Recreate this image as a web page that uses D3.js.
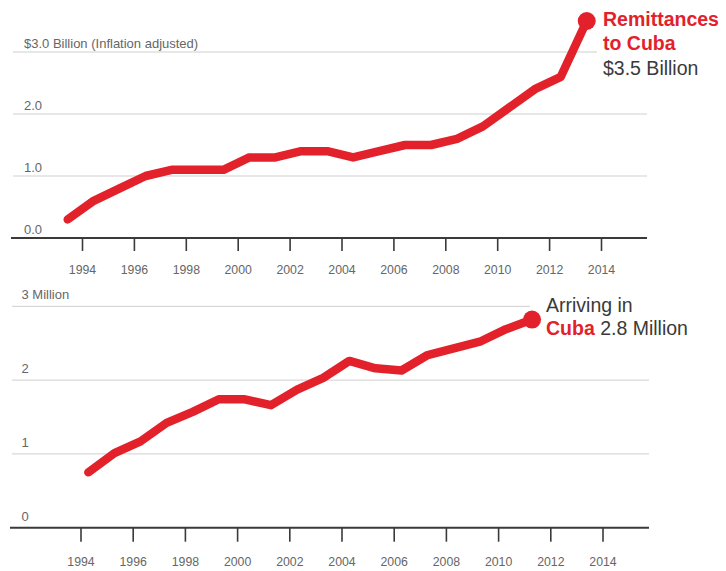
<!DOCTYPE html>
<html><head><meta charset="utf-8">
<script src="https://cdn.jsdelivr.net/npm/d3@7"></script>
<style>
body{margin:0;background:#fff;}
svg{display:block;font-family:"Liberation Sans",Arial,sans-serif;}
</style></head><body>
<svg id="c" width="726" height="571"></svg>
<script>
// ---- data ----
const remitYears = [1993,1994,1995,1996,1997,1998,1999,2000,2001,2002,2003,2004,2005,2006,2007,2008,2009,2010,2011,2012,2013];
const remitValues = [0.3,0.6,0.8,1.0,1.1,1.1,1.1,1.3,1.3,1.4,1.4,1.3,1.4,1.5,1.5,1.6,1.8,2.1,2.4,2.6,3.5];
const arriveYears = [1994,1995,1996,1997,1998,1999,2000,2001,2002,2003,2004,2005,2006,2007,2008,2009,2010,2011];
const arriveValues = [0.75,1.01,1.17,1.42,1.57,1.74,1.74,1.66,1.87,2.03,2.26,2.16,2.13,2.34,2.43,2.52,2.69,2.82];
const tickYears = [1994,1996,1998,2000,2002,2004,2006,2008,2010,2012,2014];
const remitTicks = [0,1,2,3];
const remitTickLabels = ["0.0","1.0","2.0","$3.0 Billion (Inflation adjusted)"];
const arriveTicks = [0,1,2,3];
const arriveTickLabels = ["0","1","2","3 Million"];

const RED = "#e3212b", DARK = "#3a3a3a", GRAY = "#666", GRID = "#cfcfcf";
const svg = d3.select("#c");

function panel(opt){
  const g = svg.append("g");
  const x = d3.scaleLinear().domain([1994,2014]).range(opt.xr);
  const y = d3.scaleLinear().domain([0,3]).range(opt.yr);
  opt.yticks.forEach((t,i)=>{
    if(t===0) return;
    g.append("line").attr("x1",opt.gridL).attr("x2", i===opt.yticks.length-1 ? opt.topGridR : opt.gridR)
      .attr("y1",y(t)).attr("y2",y(t)).attr("stroke",GRID).attr("stroke-width",1);
  });
  opt.yticks.forEach((t,i)=>{
    g.append("text").attr("x",opt.labX).attr("y",y(t)-opt.labOff)
      .attr("fill",GRAY).attr("font-size",opt.labSize).text(opt.ylabels[i]);
  });
  const ax = d3.axisBottom(x).tickValues(tickYears).tickFormat(d3.format("d"))
    .tickSize(opt.tickLen).tickPadding(opt.tickPad);
  const axg = g.append("g").attr("transform",`translate(0,${y(0)})`).call(ax);
  axg.select(".domain").remove();
  axg.selectAll(".tick line").attr("stroke",DARK).attr("stroke-width",1.6);
  axg.selectAll(".tick text").attr("fill",GRAY).attr("font-size",12.3)
     .attr("font-family","'Liberation Sans',Arial,sans-serif");
  g.append("line").attr("x1",opt.gridL-2).attr("x2",opt.gridR).attr("y1",y(0)).attr("y2",y(0))
    .attr("stroke",DARK).attr("stroke-width",2);
  const line = d3.line().x((d,i)=>x(opt.years[i]+opt.off)).y(d=>y(d));
  g.append("path").datum(opt.values).attr("d",line).attr("fill","none")
    .attr("stroke",RED).attr("stroke-width",8.5).attr("stroke-linejoin","round").attr("stroke-linecap","round");
  const n = opt.values.length-1;
  g.append("circle").attr("cx",x(opt.years[n]+opt.off)).attr("cy",y(opt.values[n])).attr("r",9).attr("fill",RED);
  return {g,x,y};
}

const topPanel = panel({xr:[82,601], yr:[238,52], years:remitYears, values:remitValues, off:0.45,
  yticks:remitTicks, ylabels:remitTickLabels, gridL:13, gridR:647, topGridR:597,
  labX:24, labOff:4.5, labSize:13, tickLen:13, tickPad:14});
const botPanel = panel({xr:[80.5,602.5], yr:[527.7,306.3], years:arriveYears, values:arriveValues, off:0.3,
  yticks:arriveTicks, ylabels:arriveTickLabels, gridL:12, gridR:649, topGridR:530,
  labX:21.5, labOff:7, labSize:13, tickLen:14, tickPad:16});

const ann = svg.append("g").attr("font-size",19.5);
ann.append("text").attr("x",603).attr("y",26).attr("fill",RED).attr("font-weight","bold").text("Remittances");
ann.append("text").attr("x",603).attr("y",50).attr("fill",RED).attr("font-weight","bold").text("to Cuba");
ann.append("text").attr("x",603).attr("y",75).attr("fill",DARK).text("$3.5 Billion");
ann.append("text").attr("x",546).attr("y",312).attr("fill",DARK).text("Arriving in");
const t2 = ann.append("text").attr("x",546).attr("y",335);
t2.append("tspan").attr("fill",RED).attr("font-weight","bold").text("Cuba");
t2.append("tspan").attr("fill",DARK).text(" 2.8 Million");
</script></body></html>
